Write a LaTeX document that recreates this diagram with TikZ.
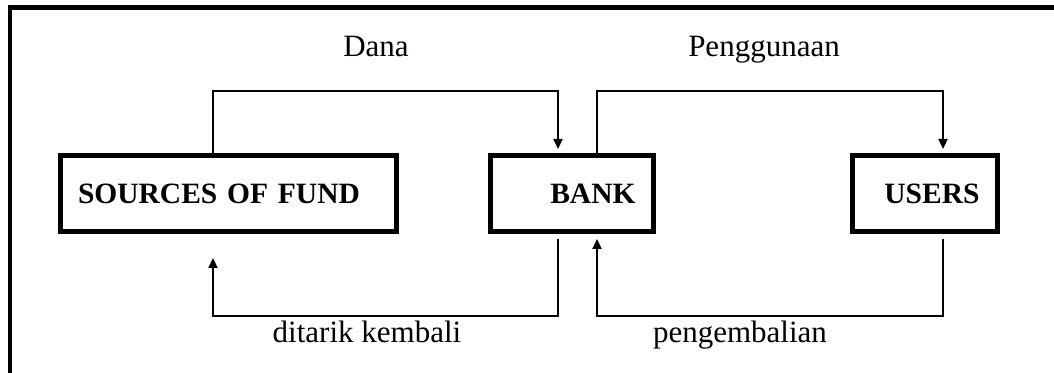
\documentclass[tikz,border=0pt]{standalone}
\usepackage{fontspec}
\setmainfont{Liberation Serif}
\usetikzlibrary{arrows.meta,positioning}

\begin{document}
\begin{tikzpicture}[x=0.5pt,y=0.5pt]
    \tikzset{block/.style={draw,rectangle,line width=2.5pt,minimum height=38pt,inner xsep=9pt,
                           font=\fontsize{14.75}{17}\selectfont\bfseries},
             flow/.style={-{Triangle[width=4.5pt,length=5pt]},line width=1.1pt},
             caption/.style={anchor=base,inner sep=0pt,font=\fontsize{15.5}{18}\selectfont}}
    \useasboundingbox (0,0) rectangle (1054,373);
    % open frame, only top and left edges
    \draw[line width=2.3pt] (1070,365.5) -- (10,365.5) -- (10,-20);
    \node[block,text width=150pt,align=left] (src) at (228,179.5) {SOURCES OF FUND};
    \node[block,text width=63.5pt,align=right] (bank) at (572,179.5) {BANK};
    \node[block,text width=54.5pt,align=right] (users) at (925,179.5) {USERS};
    % corners of the flows
    \coordinate (f1) at (213,282);
    \coordinate (f2) at (558,282);
    \coordinate (u1) at (597,282);
    \coordinate (u2) at (943,282);
    \coordinate (r1) at (558,57);
    \coordinate (r2) at (213,57);
    \coordinate (b1) at (943,57);
    \coordinate (b2) at (597,57);
    \draw[flow,shorten >=2pt] (src.north -| f1) -- (f1) -- (f2) -- (bank.north -| f2);
    \draw[flow,shorten >=2pt] (bank.north -| u1) -- (u1) -- (u2) -- (users.north -| u2);
    \draw[flow,shorten <=2.5pt,shorten >=12pt] (bank.south -| r1) -- (r1) -- (r2) -- (src.south -| r2);
    \draw[flow,shorten <=2.5pt,shorten >=2.5pt] (users.south -| b1) -- (b1) -- (b2) -- (bank.south -| b2);
    \node[caption] (dana) at (376,316) {Dana};
    \node[caption] (guna) at (764,316) {Penggunaan};
    \node[caption] (tarik) at (367,30) {ditarik kembali};
    \node[caption] (balik) at (740,30) {pengembalian};
\end{tikzpicture}
\end{document}
